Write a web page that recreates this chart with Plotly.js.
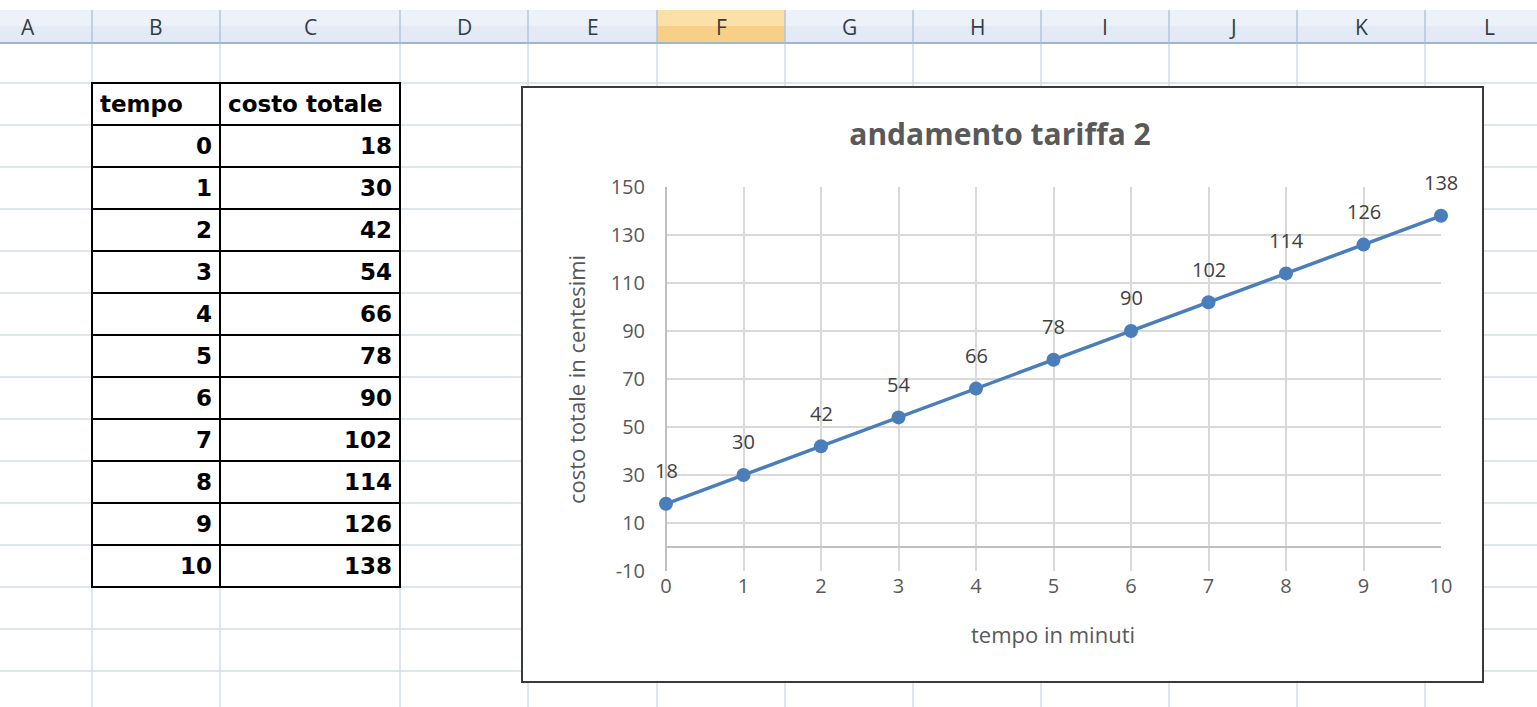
<!DOCTYPE html>
<html>
<head>
<meta charset="utf-8">
<script src="https://cdn.plot.ly/plotly-3.0.1.min.js"></script>
<style>html,body{margin:0;padding:0;background:#fff;}#chart{width:1537px;height:707px;}</style>
</head>
<body>
<div id="chart"></div>
<script>
// ---- data ----
const tempo = [0, 1, 2, 3, 4, 5, 6, 7, 8, 9, 10];
const costoTotale = [18, 30, 42, 54, 66, 78, 90, 102, 114, 126, 138];
const yTickValues = [-10, 10, 30, 50, 70, 90, 110, 130, 150];
const yTickLabels = ['-10', '10', '30', '50', '70', '90', '110', '130', '150'];
const tableHeaders = ['tempo', 'costo totale'];
const columnLetters = ['A', 'B', 'C', 'D', 'E', 'F', 'G', 'H', 'I', 'J', 'K', 'L'];
const chartTitle = 'andamento tariffa 2';
const xTitle = 'tempo in minuti';
const yTitle = 'costo totale in centesimi';

// ---- page geometry (spreadsheet decoration) ----
const W = 1537, H = 707;
const colEdges = [-36, 92, 220, 400, 528, 657, 785, 913, 1041, 1169, 1297, 1425, 1553];
const rowEdges = [43, 83, 125, 167, 209, 251, 293, 335, 377, 419, 461, 503, 545, 587, 629, 671];
const selectedCol = 'F';
const px = x => x / W;
const py = y => 1 - y / H;

const shapes = [];
// header strip
shapes.push({type:'rect', xref:'paper', yref:'paper', x0:0, x1:1, y0:py(43), y1:py(10), fillcolor:'#e3eaf5', line:{width:0}, layer:'below'});
shapes.push({type:'rect', xref:'paper', yref:'paper', x0:0, x1:1, y0:py(26), y1:py(10), fillcolor:'#edf2f9', line:{width:0}, layer:'below'});
const fi = columnLetters.indexOf(selectedCol);
shapes.push({type:'rect', xref:'paper', yref:'paper', x0:px(colEdges[fi]), x1:px(colEdges[fi+1]), y0:py(43), y1:py(10), fillcolor:'#f8cf86', line:{width:0}, layer:'below'});
shapes.push({type:'rect', xref:'paper', yref:'paper', x0:px(colEdges[fi]), x1:px(colEdges[fi+1]), y0:py(26), y1:py(10), fillcolor:'#fbe0a8', line:{width:0}, layer:'below'});
// grid lines
rowEdges.forEach((y, i) => {
  if (i === 0) return;
  shapes.push({type:'line', xref:'paper', yref:'paper', x0:0, x1:1, y0:py(y), y1:py(y), line:{color:'#d4dcea', width:1.5}, layer:'below'});
});
colEdges.forEach(x => {
  shapes.push({type:'line', xref:'paper', yref:'paper', x0:px(x), x1:px(x), y0:py(43), y1:0, line:{color:'#d4dcea', width:1.5}, layer:'below'});
  shapes.push({type:'line', xref:'paper', yref:'paper', x0:px(x), x1:px(x), y0:py(42), y1:py(10), line:{color:'#b3c5dc', width:1.5}, layer:'below'});
});
shapes.push({type:'line', xref:'paper', yref:'paper', x0:0, x1:1, y0:py(43), y1:py(43), line:{color:'#9fb6d0', width:2}, layer:'below'});
// chart area box
shapes.push({type:'rect', xref:'paper', yref:'paper', x0:px(522), x1:px(1483), y0:py(682), y1:py(87), fillcolor:'#ffffff', line:{color:'#3a3a3a', width:2}, layer:'below'});

const annotations = [];
columnLetters.forEach((c, i) => {
  annotations.push({xref:'paper', yref:'paper', x:px((colEdges[i] + colEdges[i+1]) / 2), y:py(27), text:c, showarrow:false,
    xanchor:'center', yanchor:'middle', font:{family:'Open Sans', size:21, color:'#333b47'}});
});
// data labels
tempo.forEach((t, i) => {
  annotations.push({x:t, y:costoTotale[i], xref:'x', yref:'y', text:String(costoTotale[i]), showarrow:false,
    yshift:33, xanchor:'center', yanchor:'middle', font:{family:'Open Sans', size:20, color:'#404040'}});
});
// axis titles
annotations.push({xref:'paper', yref:'paper', x:px(1053), y:py(634), text:xTitle, showarrow:false, xanchor:'center', yanchor:'middle',
  font:{family:'Open Sans', size:22, color:'#595959'}});
annotations.push({xref:'paper', yref:'paper', x:px(576), y:py(380), text:yTitle, showarrow:false, textangle:-90, xanchor:'center', yanchor:'middle',
  font:{family:'Open Sans', size:22, color:'#595959'}});

const tableTrace = {
  type:'table',
  domain:{x:[px(92), px(400)], y:[py(588), py(83)]},
  columnwidth:[128, 180],
  header:{values:tableHeaders.map(h => '<b>' + h + '</b>'), align:'left', height:42,
    line:{color:'#000000', width:2}, fill:{color:'#ffffff'},
    font:{family:'DejaVu Sans', size:23, color:'#000000'}},
  cells:{values:[tempo.map(v => '<b>' + v + '</b>'), costoTotale.map(v => '<b>' + v + '</b>')], align:'right', height:42,
    line:{color:'#000000', width:2}, fill:{color:'#ffffff'},
    font:{family:'DejaVu Sans', size:23, color:'#000000'}}
};

const lineTrace = {
  type:'scatter', mode:'lines+markers', x:tempo, y:costoTotale,
  line:{color:'#4a7ebb', width:3.5},
  marker:{color:'#4a7ebb', size:14},
  cliponaxis:false, hoverinfo:'skip'
};

const layout = {
  width:W, height:H,
  margin:{l:0, r:0, t:0, b:0},
  paper_bgcolor:'#ffffff', plot_bgcolor:'rgba(0,0,0,0)',
  showlegend:false,
  title:{text:'<b>' + chartTitle + '</b>', x:px(1000), y:py(134), xref:'paper', yref:'paper', xanchor:'center', yanchor:'middle',
    font:{family:'Open Sans', size:30, color:'#595959'}},
  xaxis:{domain:[px(666), px(1441)], range:[0, 10], dtick:1, tick0:0, showgrid:true, gridcolor:'#d9d9d9', gridwidth:2,
    zeroline:true, zerolinecolor:'#bfbfbf', zerolinewidth:2, showline:false, ticks:'',
    ticklabelstandoff:1, tickfont:{family:'Open Sans', size:20, color:'#595959'}, fixedrange:true},
  yaxis:{domain:[py(571), py(187)], range:[-10, 150], tickmode:'array', tickvals:yTickValues, ticktext:yTickLabels,
    showgrid:true, gridcolor:'#d9d9d9', gridwidth:2,
    zeroline:true, zerolinecolor:'#bfbfbf', zerolinewidth:2, showline:false, ticks:'',
    ticklabelstandoff:20, tickfont:{family:'Open Sans', size:20, color:'#595959'}, fixedrange:true},
  shapes:shapes,
  annotations:annotations
};

Plotly.newPlot('chart', [lineTrace, tableTrace], layout, {displayModeBar:false, staticPlot:true});
</script>
</body>
</html>
